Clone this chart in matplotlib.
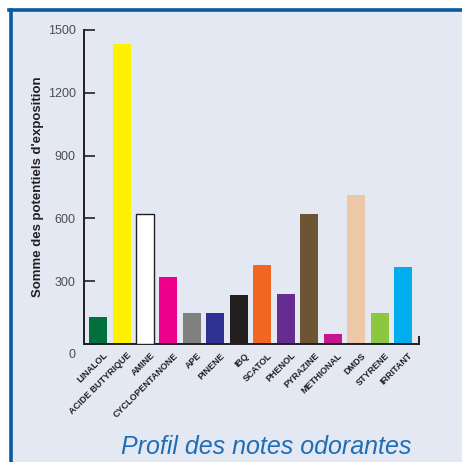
import matplotlib
matplotlib.use("Agg")
import matplotlib.pyplot as plt
import matplotlib.transforms as mtransforms
from matplotlib.patches import Rectangle
from matplotlib.lines import Line2D

# data
odeurs = ["LINALOL", "ACIDE BUTYRIQUE", "AMINE", "CYCLOPENTANONE", "APE", "PINENE",
          "IBQ", "SCATOL", "PHENOL", "PYRAZINE", "METHIONAL", "DMDS", "STYRENE", "IRRITANT"]
valeurs = [130, 1435, 620, 320, 150, 150, 232, 378, 240, 621, 50, 713, 150, 370]
couleurs = ["#00703c", "#fff200", "#ffffff", "#ec008c", "#808080", "#2e3192", "#231f20",
            "#f26522", "#662d91", "#6b5535", "#c4168f", "#ecc8a8", "#8dc63f", "#00aeef"]
yticks = [0, 300, 600, 900, 1200, 1500]

plt.rcParams["font.family"] = ["Liberation Sans", "DejaVu Sans"]

fig = plt.figure(figsize=(4.62, 4.62), dpi=100)
fig.patch.set_facecolor("white")

# panel background + blue frame (left and top)
W, H = 462.0, 462.0
fig.patches.append(Rectangle((10 / W, 0), 1, 1 - 10 / H, transform=fig.transFigure,
                             facecolor="#e4e8f3", edgecolor="none", zorder=-5))
fig.lines.append(Line2D([10.5 / W, 10.5 / W], [0, 1 - 9.5 / H], transform=fig.transFigure,
                        color="#0b5aa0", lw=2.6, zorder=-4))
fig.lines.append(Line2D([9 / W, 1], [1 - 9.5 / H, 1 - 9.5 / H], transform=fig.transFigure,
                        color="#0b5aa0", lw=2.6, zorder=-4))

ax = fig.add_axes([84 / W, 1 - 344 / H, (419 - 84) / W, (344 - 30) / H])
ax.set_facecolor("none")

x = list(range(len(odeurs)))
ax.bar(x, valeurs, width=0.77, color=couleurs, zorder=2)
ax.bar(2, valeurs[2], width=0.77, color="white", edgecolor="#231f20", linewidth=1.0, zorder=3)

ax.set_xlim(-0.6, 13.68)
ax.set_ylim(0, 1500)

ax.spines["top"].set_visible(False)
for s in ["left", "bottom", "right"]:
    ax.spines[s].set_color("#231f20")
    ax.spines[s].set_linewidth(1.4)
ax.spines["right"].set_bounds(0, 35)

ax.set_yticks(yticks)
ax.set_yticklabels([str(v) for v in yticks], color="#4d4d4d", fontsize=9)
ax.tick_params(axis="y", direction="in", length=8, width=1.2, color="#231f20", pad=6)
# the "0" sits a little below the axis in the original
zero = ax.get_yticklabels()[0]
zero.set_transform(zero.get_transform() + mtransforms.ScaledTranslation(0, -9 / 100, fig.dpi_scale_trans))

ax.set_xticks(x)
ax.set_xticklabels(odeurs, rotation=45, ha="right", rotation_mode="anchor",
                   fontsize=6.5, fontweight="bold", color="#231f20")
ax.tick_params(axis="x", length=0, pad=5)
shift = mtransforms.ScaledTranslation(5 / 100, 0, fig.dpi_scale_trans)
for lab in ax.get_xticklabels():
    lab.set_transform(lab.get_transform() + shift)

ax.set_ylabel("Somme des potentiels d'exposition", fontsize=9.5, fontweight="bold",
              color="#231f20", labelpad=3)

fig.text(266 / W, 1 - 447 / H, "Profil des notes odorantes", fontsize=18, style="italic",
         color="#1f6db5", ha="center", va="center")

fig.savefig("out.png", dpi=100)
